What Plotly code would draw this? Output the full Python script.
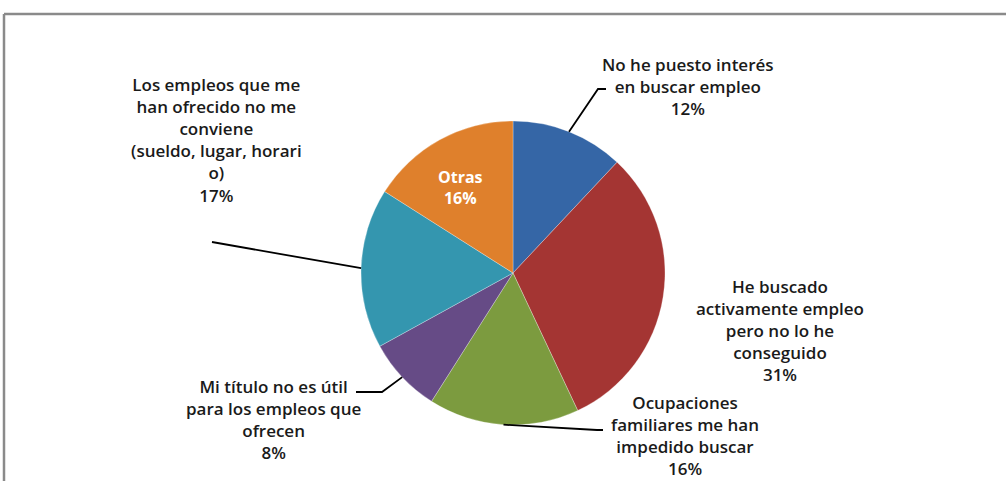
import math
import plotly.graph_objects as go

# ---- data ----
labels = [
    "No he puesto interés<br>en buscar empleo",
    "He buscado<br>activamente empleo<br>pero no lo he<br>conseguido",
    "Ocupaciones<br>familiares me han<br>impedido buscar",
    "Mi título no es útil<br>para los empleos que<br>ofrecen",
    "Los empleos que me<br>han ofrecido no me<br>conviene<br>(sueldo, lugar, horari<br>o)",
    "Otras",
]
values = [12, 31, 16, 8, 17, 16]
colors = ["#3566A6", "#A43533", "#7C9B3F", "#664B86", "#3496AF", "#DF802C"]

# ---- layout constants (pixels) ----
W, H = 1006, 481
CX, CY, R = 513, 273, 152

# label anchor centres and leader line bends
label_pos = [(688, 86), (780, 330), (685, 435), (273, 419), (216, 140), (460, 187)]
leader_end = [[(598, 89), (606, 89)],
              [],
              [(597, 430), (603, 430)],
              [(382, 392), (356, 392)],
              [(212, 242)],
              []]

fig = go.Figure()
fig.add_trace(go.Pie(
    labels=[l.replace("<br>", " ") for l in labels],
    values=values,
    sort=False,
    direction="clockwise",
    rotation=0,
    marker=dict(colors=colors, line=dict(color="rgba(255,255,255,0.35)", width=0.8)),
    textinfo="none",
    hoverinfo="label+percent",
    showlegend=False,
    domain=dict(x=[(CX - R) / W, (CX + R) / W],
                y=[(H - CY - R) / H, (H - CY + R) / H]),
))

total = sum(values)
shapes = []
annotations = []
cum = 0
font_dark = dict(family="Open Sans, sans-serif", size=17, color="#1a1a1a", weight=600)
for i, v in enumerate(values):
    mid = (cum + v / 2) / total * 2 * math.pi
    cum += v
    pct = f"{round(v / total * 100)}%"
    if labels[i] == "Otras":
        annotations.append(dict(
            x=label_pos[i][0], y=label_pos[i][1], xref="x", yref="y",
            text=f"<b>{labels[i]}<br>{pct}</b>", showarrow=False,
            font=dict(family="Open Sans, sans-serif", size=16, color="white"),
            align="center"))
        continue
    annotations.append(dict(
        x=label_pos[i][0], y=label_pos[i][1], xref="x", yref="y",
        text=f"{labels[i]}<br>{pct}", showarrow=False, font=font_dark,
        align="center"))
    if leader_end[i]:
        px = CX + R * math.sin(mid)
        py = CY - R * math.cos(mid)
        pts = [(px, py)] + leader_end[i]
        path = "M " + " L ".join(f"{x:.1f},{y:.1f}" for x, y in pts)
        shapes.append(dict(type="path", path=path, xref="x", yref="y",
                           line=dict(color="black", width=1.8)))

# outer frame (top + left visible)
shapes.append(dict(type="line", xref="x", yref="y", x0=4, y0=14, x1=1006, y1=14,
                   line=dict(color="#8a8a8a", width=2.5)))
shapes.append(dict(type="line", xref="x", yref="y", x0=4, y0=14, x1=4, y1=481,
                   line=dict(color="#8a8a8a", width=2.5)))

fig.update_layout(
    width=W, height=H,
    margin=dict(l=0, r=0, t=0, b=0),
    paper_bgcolor="white", plot_bgcolor="white",
    xaxis=dict(range=[0, W], visible=False, fixedrange=True),
    yaxis=dict(range=[H, 0], visible=False, fixedrange=True),
    shapes=shapes,
    annotations=annotations,
)

fig.write_html("out.html",
               config={"displayModeBar": False},
               post_script="document.body.style.margin='0';document.body.style.overflow='hidden';")
